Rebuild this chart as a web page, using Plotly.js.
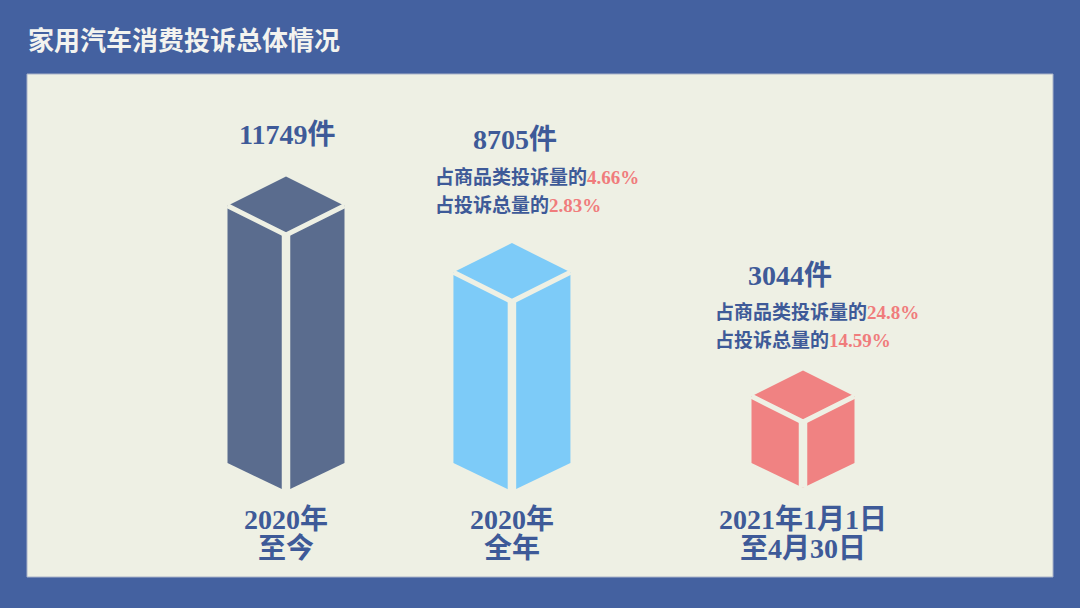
<!DOCTYPE html>
<html>
<head>
<meta charset="utf-8">
<script src="https://cdn.plot.ly/plotly-3.0.1.min.js"></script>
<style>html,body{margin:0;padding:0;background:#4461a0;}#chart{width:1080px;height:608px;}</style>
</head>
<body>
<div id="chart"></div>
<script>
// ---------- data ----------
const categories = ['2020年<br>至今', '2020年<br>全年', '2021年1月1日<br>至4月30日'];
const complaints = [11749, 8705, 3044];
const unitLabel = '件';
const shareOfCategory = [null, 4.66, 24.8];   // 占商品类投诉量的 (%)
const shareOfTotal = [null, 2.83, 14.59];     // 占投诉总量的 (%)
const shareOfCategoryLabel = '占商品类投诉量的';
const shareOfTotalLabel = '占投诉总量的';
const chartTitle = '家用汽车消费投诉总体情况';

// ---------- styles / layout ----------
const W = 1080, H = 608;
const BG = '#4461a0', PANEL = '#eef0e4', NAVY = '#3e5a98', RED = '#f07c7c';
const barColors = ['#5a6c8e', '#7dcbf8', '#f08282'];
const FONT = 'Liberation Serif, Noto Sans CJK SC, serif';
const pxPerX = 258.5;
const slotPos = [0, 0.874, 2];
const xRange = [-286 / pxPerX, (W - 286) / pxPerX];
const yRange = [-6620, 21140];
const pxPerY = H / (yRange[1] - yRange[0]);
const halfWidthPx = [58.5, 58.5, 51.5];
const labelDy = [42, 104, 95], labelDx = [1, 3, -13];
const shareDy = [[0, 0], [66, 38], [58, 30]], shareDx = [0, -79, -90];

const traces = [];
const annotations = [];
complaints.forEach((v, i) => {
  const cx = slotPos[i];
  const w = halfWidthPx[i] / pxPerX;
  const rh = 0.5 * halfWidthPx[i] / pxPerY;
  const vd = 0.48 * halfWidthPx[i] / pxPerY;
  traces.push({
    type: 'scatter', mode: 'lines', fill: 'toself', fillcolor: barColors[i],
    x: [cx - w, cx, cx + w, cx + w, cx, cx - w, cx - w],
    y: [v, v + rh, v, 0, -vd, 0, v],
    line: {width: 0, color: barColors[i]}, hoverinfo: 'skip', showlegend: false
  });
  traces.push({
    type: 'scatter', mode: 'lines',
    x: [cx - w, cx, cx + w], y: [v, v - rh, v],
    line: {width: 5, color: PANEL}, hoverinfo: 'skip', showlegend: false
  });
  traces.push({
    type: 'scatter', mode: 'lines',
    x: [cx, cx], y: [v - rh, -vd],
    line: {width: 8.5, color: PANEL}, hoverinfo: 'skip', showlegend: false
  });
  // value label
  annotations.push({
    x: cx, y: v + rh, xref: 'x', yref: 'y', showarrow: false,
    xanchor: 'center', yanchor: 'middle', yshift: labelDy[i], xshift: labelDx[i],
    text: '<b>' + v + unitLabel + '</b>',
    font: {family: FONT, size: 28, color: NAVY}
  });
  if (shareOfCategory[i] !== null) {
    const lines = [
      shareOfCategoryLabel + '<span style="color:' + RED + '">' + shareOfCategory[i] + '%</span>',
      shareOfTotalLabel + '<span style="color:' + RED + '">' + shareOfTotal[i] + '%</span>'
    ];
    lines.forEach((t, j) => {
      annotations.push({
        x: cx, y: v + rh, xref: 'x', yref: 'y', showarrow: false,
        xanchor: 'left', yanchor: 'middle', yshift: shareDy[i][j], xshift: shareDx[i],
        text: '<b>' + t + '</b>',
        font: {family: FONT, size: 19, color: NAVY}
      });
    });
  }
  // category label lines
  categories[i].split('<br>').forEach((t, j) => {
    annotations.push({
      x: cx, y: 0, xref: 'x', yref: 'y', showarrow: false,
      xanchor: 'center', yanchor: 'middle', yshift: -56 - 29.5 * j,
      text: '<b>' + t + '</b>',
      font: {family: FONT, size: 28, color: NAVY}
    });
  });
});

const layout = {
  width: W, height: H, autosize: false,
  margin: {l: 0, r: 0, t: 0, b: 0, pad: 0},
  paper_bgcolor: BG, plot_bgcolor: 'rgba(0,0,0,0)',
  title: {
    text: '<b>' + chartTitle + '</b>', x: 28 / W, xanchor: 'left', xref: 'paper',
    y: 1 - 41 / H, yref: 'container', yanchor: 'middle',
    font: {family: FONT, size: 26, color: '#f3f3ef'}
  },
  xaxis: {range: xRange, visible: false, fixedrange: true},
  yaxis: {range: yRange, visible: false, fixedrange: true},
  shapes: [{
    type: 'rect', xref: 'paper', yref: 'paper', layer: 'below',
    x0: 27 / W, x1: 1053 / W, y0: 1 - 577 / H, y1: 1 - 74 / H,
    fillcolor: PANEL, line: {color: '#aab4c9', width: 1}
  }],
  annotations: annotations,
  showlegend: false
};

Plotly.newPlot('chart', traces, layout, {staticPlot: true, displayModeBar: false});
</script>
</body>
</html>
